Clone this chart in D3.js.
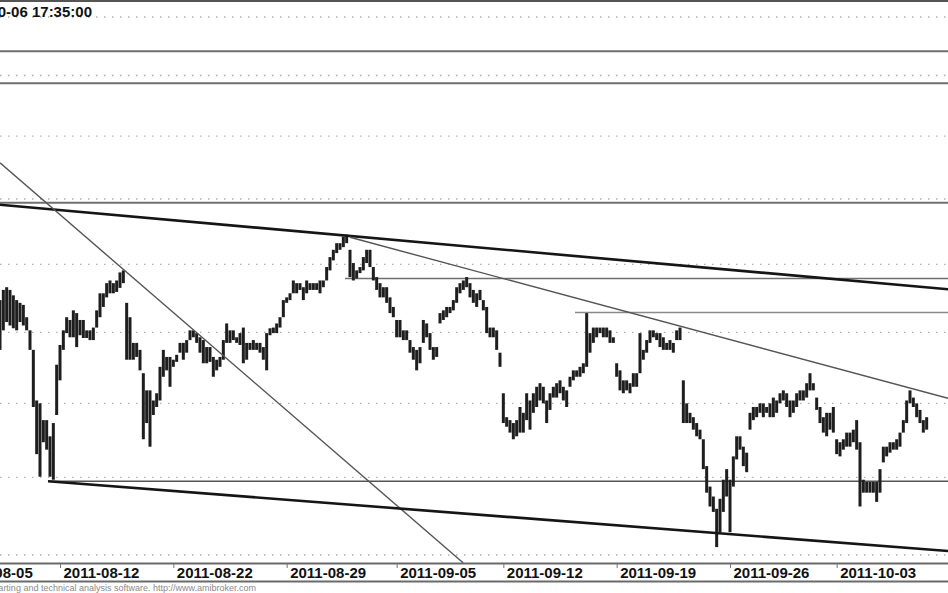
<!DOCTYPE html>
<html><head><meta charset="utf-8">
<script src="https://cdn.jsdelivr.net/npm/d3@7"></script>
<style>html,body{margin:0;padding:0;background:#fff;}svg{display:block;}</style>
</head><body>
<svg id="c" width="948" height="593"></svg>
<script>
// Bar highs / lows (intraday bars, index = bar number)
const hi = [2447,2462,2466,2462,2454,2447,2443,2440,2422,2403,
2375,2304,2300,2277,2277,2255,2273,2354,2382,2403,
2422,2418,2432,2428,2418,2418,2403,2403,2407,2432,
2457,2457,2472,2476,2472,2476,2488,2491,2443,2422,
2385,2385,2375,2342,2318,2318,2304,2314,2351,2375,
2365,2365,2361,2368,2385,2385,2389,2403,2403,2399,
2393,2389,2379,2379,2365,2361,2365,2389,2413,2403,
2403,2393,2399,2407,2385,2385,2389,2385,2385,2379,
2399,2406,2407,2413,2422,2447,2451,2457,2476,2472,
2472,2466,2476,2472,2472,2472,2476,2476,2496,2511,
2522,2532,2532,2542,2545,2522,2502,2491,2496,2511,
2522,2522,2496,2481,2472,2466,2466,2451,2437,2418,
2418,2403,2403,2389,2379,2375,2379,2418,2413,2399,
2379,2379,2428,2432,2437,2437,2447,2466,2472,2476,
2481,2472,2462,2457,2462,2447,2437,2407,2407,2403,
2371,2314,2281,2277,2273,2277,2295,2287,2314,2304,
2314,2323,2328,2323,2304,2314,2323,2328,2332,2323,
2318,2337,2346,2346,2351,2356,2428,2399,2407,2407,
2407,2407,2407,2403,2393,2356,2346,2332,2332,2328,
2342,2342,2399,2375,2389,2403,2403,2399,2399,2393,
2385,2389,2385,2403,2407,2332,2300,2287,2281,2273,
2264,2251,2215,2188,2175,2159,2172,2197,2211,2197,
2228,2255,2255,2241,2233,2287,2295,2295,2300,2300,
2295,2300,2308,2304,2314,2318,2314,2304,2304,2314,
2318,2318,2328,2342,2328,2308,2295,2281,2287,2287,
2295,2251,2247,2251,2260,2260,2264,2277,2247,2197,
2194,2194,2194,2194,2211,2241,2241,2247,2247,2251,
2260,2277,2304,2318,2308,2300,2291,2277,2281];
const lo = [2375,2403,2415,2410,2406,2403,2415,2410,2403,2375,
2295,2231,2201,2247,2237,2201,2197,2284,2332,2375,
2399,2393,2393,2379,2396,2392,2392,2389,2389,2407,
2422,2437,2451,2457,2457,2459,2465,2472,2361,2361,
2361,2365,2346,2251,2273,2241,2284,2295,2304,2337,
2346,2323,2351,2358,2371,2361,2371,2389,2393,2385,
2371,2356,2356,2358,2337,2346,2351,2361,2385,2385,
2389,2385,2382,2356,2361,2375,2375,2375,2371,2361,
2346,2396,2399,2399,2407,2422,2443,2447,2457,2457,
2462,2447,2457,2462,2462,2462,2457,2466,2476,2491,
2506,2517,2522,2526,2532,2481,2476,2479,2487,2491,
2502,2496,2476,2462,2451,2451,2443,2428,2422,2393,
2393,2389,2389,2371,2361,2346,2356,2385,2393,2375,
2361,2365,2413,2418,2422,2428,2432,2443,2457,2462,
2466,2451,2443,2437,2447,2432,2399,2393,2393,2375,
2351,2273,2268,2260,2251,2255,2260,2260,2277,2264,
2287,2295,2304,2300,2273,2291,2308,2308,2314,2304,
2295,2323,2332,2337,2337,2342,2351,2371,2385,2393,
2399,2393,2393,2385,2385,2337,2318,2314,2318,2314,
2323,2323,2342,2361,2371,2385,2393,2389,2379,2375,
2375,2375,2371,2389,2389,2273,2273,2273,2264,2255,
2251,2211,2180,2162,2155,2110,2129,2155,2175,2129,
2188,2224,2237,2215,2207,2264,2277,2281,2287,2281,
2287,2281,2281,2287,2300,2304,2295,2281,2287,2295,
2304,2304,2308,2318,2318,2291,2273,2260,2255,2264,
2260,2231,2228,2237,2241,2241,2247,2237,2162,2180,
2180,2180,2180,2168,2180,2220,2228,2233,2237,2237,
2241,2260,2273,2300,2295,2281,2273,2260,2264];

// price gridlines
const gridLevels = [2100,2200,2300,2400,2500,2600,2700,2800,2900];

// x-axis ticks (bar numbers) and labels
const tickBars = [-14, 18, 52, 86, 119, 151, 185, 219, 251];
const tickLabels = ["2011-08-05","2011-08-12","2011-08-22","2011-08-29","2011-09-05",
                    "2011-09-12","2011-09-19","2011-09-26","2011-10-03"];

// horizontal study lines: [price, from bar, to bar]
const hLevels = [2841, 2787, 2594, 2479, 2429, 2195];
const hFrom   = [0, 0, 0, 103.5, 172.5, 14.4];
const hTo     = [284.4, 284.4, 284.4, 284.4, 284.4, 284.4];
const hWidth  = [2, 2, 2, 1.5, 1.5, 1.5];
const hColor  = ["#6e6e6e","#6e6e6e","#707070","#707070","#8a8a8a","#555"];

// trend lines: bar1, price1, bar2, price2
const trendBar1 = [0, 0, 105, 14.4];
const trendP1   = [2591, 2657, 2541, 2195];
const trendBar2 = [284.4, 139, 284.4, 284.4];
const trendP2   = [2463, 2090, 2307, 2105];
const trendW    = [2.6, 1.4, 1.4, 2.6];
const trendC    = ["#151515","#555","#555","#151515"];

const title = "2011-10-06 17:35:00";
const footer = "AmiBroker - charting and technical analysis software. http://www.amibroker.com";

const svg = d3.select("#c");
const W = 948;
const x = d3.scaleLinear().domain([0, 284.4]).range([0, W]);
const y = d3.scaleLog().domain([2100, 2900]).range([555, 17]);

svg.append("defs").append("clipPath").attr("id","plot")
  .append("rect").attr("x",0).attr("y",2).attr("width",W).attr("height",561);

// top border
svg.append("line").attr("x1",0).attr("x2",W).attr("y1",1).attr("y2",1)
  .attr("stroke","#555").attr("stroke-width",2);

const plot = svg.append("g").attr("clip-path","url(#plot)");

// dotted gridlines
plot.selectAll("line.grid").data(gridLevels).enter().append("line")
  .attr("class","grid")
  .attr("x1",0).attr("x2",W)
  .attr("y1",d=>y(d)).attr("y2",d=>y(d))
  .attr("stroke","#b0b0b0").attr("stroke-width",1.3)
  .attr("stroke-dasharray","1.5,6.5");

// horizontal study lines
plot.selectAll("line.h").data(hLevels).enter().append("line")
  .attr("class","h")
  .attr("x1",(d,i)=>x(hFrom[i])).attr("x2",(d,i)=>x(hTo[i]))
  .attr("y1",d=>y(d)).attr("y2",d=>y(d))
  .attr("stroke",(d,i)=>hColor[i]).attr("stroke-width",(d,i)=>hWidth[i]);

// bars
const bars = hi.map((h,i)=>({i, h, l: lo[i]}));
plot.selectAll("rect.bar").data(bars).enter().append("rect")
  .attr("class","bar")
  .attr("x",d=>x(d.i)-1.5)
  .attr("width",3)
  .attr("y",d=>y(d.h))
  .attr("height",d=>Math.max(1.5, y(d.l)-y(d.h)))
  .attr("fill","#1e1e1e");

// trend lines
plot.selectAll("line.t").data(trendBar1).enter().append("line")
  .attr("class","t")
  .attr("x1",(d,i)=>x(trendBar1[i])).attr("y1",(d,i)=>y(trendP1[i]))
  .attr("x2",(d,i)=>x(trendBar2[i])).attr("y2",(d,i)=>y(trendP2[i]))
  .attr("stroke",(d,i)=>trendC[i]).attr("stroke-width",(d,i)=>trendW[i]);

// title
svg.append("text").attr("x",92).attr("y",16.5).attr("text-anchor","end")
  .attr("font-family","'Liberation Sans', Arial, sans-serif")
  .attr("font-weight","bold").attr("font-size",15).attr("fill","#111")
  .text(title);

// x axis
const gx = svg.append("g").attr("transform","translate(0,563)")
  .call(d3.axisBottom(x).tickValues(tickBars)
    .tickFormat((d,i)=>tickLabels[i]).tickSize(5).tickPadding(0));
gx.select(".domain").remove();
gx.selectAll(".tick line").attr("stroke","#777").attr("stroke-width",1);
gx.selectAll(".tick text")
  .attr("text-anchor","start").attr("x",3).attr("y",15).attr("dy",null)
  .attr("font-family","'Liberation Sans', Arial, sans-serif")
  .attr("font-weight","bold").attr("font-size",15).attr("fill","#111");

svg.append("line").attr("x1",0).attr("x2",W).attr("y1",563.5).attr("y2",563.5)
  .attr("stroke","#6a6a6a").attr("stroke-width",2);
svg.append("line").attr("x1",0).attr("x2",W).attr("y1",581.5).attr("y2",581.5)
  .attr("stroke","#6a6a6a").attr("stroke-width",2);

// footer
svg.append("text").attr("x",256).attr("y",591).attr("text-anchor","end")
  .attr("font-family","'Liberation Sans', Arial, sans-serif")
  .attr("font-size",9).attr("fill","#8a8a8a")
  .text(footer);
</script>
</body></html>
